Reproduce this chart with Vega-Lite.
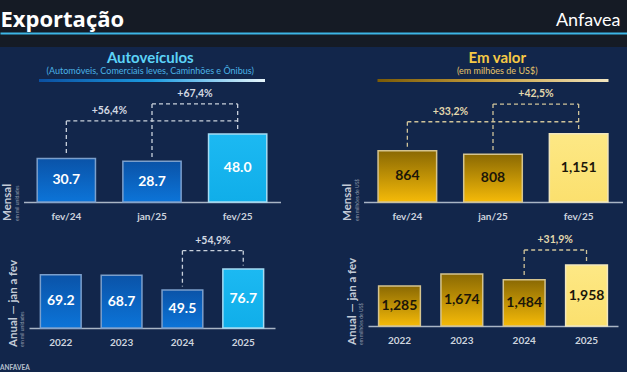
{
  "$schema": "https://vega.github.io/schema/vega-lite/v6.json",
  "background": "#12264b",
  "padding": 0,
  "config": {
    "font": "Lato",
    "view": {"stroke": null},
    "axisX": {"labelFontSize": 10, "labelFontWeight": "bold", "labelColor": "#cdd4de", "labelPadding": 9, "ticks": false, "domainColor": "#a9b5c5", "domainWidth": 1.5, "grid": false, "labelAngle": 0}
  },
  "title": {"text": "ANFAVEA", "orient": "bottom", "anchor": "start", "fontSize": 6.5, "fontWeight": "bold", "color": "#b9c2cf", "offset": 18},
  "spacing": 4,
  "center": true,
  "vconcat": [
    {
      "width": 646, "height": 47,
      "data": {"values": [{"inicio": 0, "fim": 1}]},
      "mark": {"type": "rect", "fill": "#151b25"},
      "encoding": {
        "x": {"field": "inicio", "type": "quantitative", "scale": {"domain": [0, 1]},
          "axis": {"orient": "bottom", "zindex": 2, "offset": -14, "title": "Exportação", "labels": false, "ticks": false, "grid": false, "domain": true, "domainColor": "#3db6e6", "domainWidth": 2, "minExtent": 0, "titleX": 0, "titleY": -7, "titleAlign": "left", "titleBaseline": "alphabetic", "titleFontSize": 22, "titleFontWeight": "bold", "titleColor": "#ffffff", "titleFont": "Open Sans"}},
        "x2": {"field": "fim"},
        "y": {"field": "inicio", "type": "quantitative", "scale": {"domain": [0, 1]},
          "axis": {"orient": "right", "zindex": 2, "title": "Anfavea", "labels": false, "ticks": false, "grid": false, "domain": false, "minExtent": 0, "titleAngle": 0, "titleX": -26, "titleY": 25, "titleAlign": "right", "titleBaseline": "alphabetic", "titleFontSize": 18, "titleFontWeight": "normal", "titleColor": "#ffffff"}},
        "y2": {"field": "fim"}
      }
    },
    {
      "spacing": 61,
      "hconcat": [
        {
          "title": {"text": "Autoveículos", "subtitle": "(Automóveis, Comerciais leves, Caminhões e Ônibus)", "anchor": "middle", "dx": 9, "fontSize": 15, "fontWeight": "bold", "color": "#5cd3f7", "subtitleFontSize": 9, "subtitleColor": "#4bb3e6", "offset": 3, "subtitlePadding": 1},
          "center": true,
          "spacing": 6,
          "vconcat": [
            {
              "width": 226, "height": 3,
              "data": {"values": [{}]},
              "mark": {"type": "rect", "fill": {"gradient": "linear", "x1": 0, "y1": 0, "x2": 1, "y2": 0, "stops": [{"offset": 0, "color": "#0b4fa0"}, {"offset": 0.5, "color": "#1c9be0"}, {"offset": 1, "color": "#e8f6fc"}]}},
              "encoding": {}
            },
            {
              "width": 257, "height": 114,
              "title": {"text": "Mensal", "subtitle": "em mil unidades", "orient": "left", "anchor": "start", "fontSize": 11.5, "fontWeight": "bold", "color": "#c3cbd7", "subtitleFontSize": 5, "subtitleColor": "#8d98aa", "offset": 4, "subtitlePadding": 1},
              "layer": [
                {
                  "data": {"name": "auto_mensal_var"},
                  "transform": [{"lookup": "de", "from": {"data": {"name": "auto_mensal"}, "key": "periodo", "fields": ["valor"]}, "as": ["valor_de"]}],
                  "mark": {"type": "rule", "color": "#c9d1dc", "strokeWidth": 1.3, "strokeDash": [4, 3], "y2Offset": -3.5},
                  "encoding": {
                    "x": {"field": "de", "type": "nominal", "scale": {"domain": ["fev/24", "jan/25", "fev/25"], "paddingInner": 0.32, "paddingOuter": 0.16}, "title": null},
                    "y": {"field": "nivel", "type": "quantitative", "scale": {"domain": [0, 80.45], "nice": false}, "axis": null},
                    "y2": {"field": "valor_de"}
                  }
                },
                {
                  "data": {"name": "auto_mensal_var"},
                  "transform": [
                    {"lookup": "ate", "from": {"data": {"name": "auto_mensal"}, "key": "periodo", "fields": ["valor"]}, "as": ["valor_ate"]},
                    {"joinaggregate": [{"op": "max", "field": "nivel", "as": "nivel_max"}], "groupby": ["ate"]},
                    {"filter": "datum.nivel === datum.nivel_max"}
                  ],
                  "mark": {"type": "rule", "color": "#c9d1dc", "strokeWidth": 1.3, "strokeDash": [4, 3], "y2Offset": -3.5},
                  "encoding": {
                    "x": {"field": "ate", "type": "nominal", "title": null},
                    "y": {"field": "nivel", "type": "quantitative", "axis": null},
                    "y2": {"field": "valor_ate"}
                  }
                },
                {
                  "data": {"name": "auto_mensal_var"},
                  "mark": {"type": "rule", "color": "#c9d1dc", "strokeWidth": 1.3, "strokeDash": [4, 3]},
                  "encoding": {
                    "x": {"field": "de", "type": "nominal", "title": null},
                    "x2": {"field": "ate"},
                    "y": {"field": "nivel", "type": "quantitative", "axis": null}
                  }
                },
                {
                  "data": {"name": "auto_mensal_var"},
                  "mark": {"type": "text", "dx": 43, "dy": -10, "fontSize": 10.5, "fontWeight": "bold", "color": "#d3d9e2"},
                  "encoding": {
                    "x": {"field": "de", "type": "nominal", "title": null},
                    "y": {"field": "nivel", "type": "quantitative", "axis": null},
                    "text": {"field": "variacao"}
                  }
                },
                {
                  "data": {"name": "auto_mensal"},
                  "transform": [{"filter": "datum.periodo !== 'fev/25'"}],
                  "mark": {"type": "bar", "stroke": "#7b9fcc", "strokeWidth": 1.5, "fill": {"gradient": "linear", "x1": 0, "y1": 0, "x2": 0, "y2": 1, "stops": [{"offset": 0, "color": "#0a53a8"}, {"offset": 1, "color": "#0c74d8"}]}},
                  "encoding": {
                    "x": {"field": "periodo", "type": "nominal", "title": null},
                    "y": {"field": "valor", "type": "quantitative", "axis": null}
                  }
                },
                {
                  "data": {"name": "auto_mensal"},
                  "transform": [{"filter": "datum.periodo === 'fev/25'"}],
                  "mark": {"type": "bar", "stroke": "#a5dcf3", "strokeWidth": 1.5, "fill": {"gradient": "linear", "x1": 0, "y1": 0, "x2": 0, "y2": 1, "stops": [{"offset": 0, "color": "#1cb9f2"}, {"offset": 1, "color": "#10aee9"}]}},
                  "encoding": {
                    "x": {"field": "periodo", "type": "nominal", "title": null},
                    "y": {"field": "valor", "type": "quantitative", "axis": null}
                  }
                },
                {
                  "data": {"name": "auto_mensal"},
                  "mark": {"type": "text", "fontSize": 14, "fontWeight": "bold", "color": "#ffffff"},
                  "encoding": {
                    "x": {"field": "periodo", "type": "nominal", "title": null},
                    "y": {"field": "valor", "type": "quantitative", "stack": "zero", "bandPosition": 0.5, "axis": null},
                    "text": {"field": "valor", "format": ".1f"}
                  }
                }
              ]
            },
            {
              "width": 246, "height": 101,
              "title": {"text": "Anual — jan a fev", "subtitle": "em mil unidades", "orient": "left", "anchor": "start", "fontSize": 11.5, "fontWeight": "bold", "color": "#c3cbd7", "subtitleFontSize": 5, "subtitleColor": "#8d98aa", "offset": 4, "subtitlePadding": 1},
              "layer": [
                {
                  "data": {"name": "auto_anual_var"},
                  "transform": [{"lookup": "de", "from": {"data": {"name": "auto_anual"}, "key": "periodo", "fields": ["valor"]}, "as": ["valor_de"]}],
                  "mark": {"type": "rule", "color": "#c9d1dc", "strokeWidth": 1.3, "strokeDash": [4, 3], "y2Offset": -3.5},
                  "encoding": {
                    "x": {"field": "de", "type": "nominal", "scale": {"domain": ["2022", "2023", "2024", "2025"], "paddingInner": 0.33, "paddingOuter": 0.187}, "title": null},
                    "y": {"field": "nivel", "type": "quantitative", "scale": {"domain": [0, 131.5], "nice": false}, "axis": null},
                    "y2": {"field": "valor_de"}
                  }
                },
                {
                  "data": {"name": "auto_anual_var"},
                  "transform": [{"lookup": "ate", "from": {"data": {"name": "auto_anual"}, "key": "periodo", "fields": ["valor"]}, "as": ["valor_ate"]}],
                  "mark": {"type": "rule", "color": "#c9d1dc", "strokeWidth": 1.3, "strokeDash": [4, 3], "y2Offset": -3.5},
                  "encoding": {
                    "x": {"field": "ate", "type": "nominal", "title": null},
                    "y": {"field": "nivel", "type": "quantitative", "axis": null},
                    "y2": {"field": "valor_ate"}
                  }
                },
                {
                  "data": {"name": "auto_anual_var"},
                  "mark": {"type": "rule", "color": "#c9d1dc", "strokeWidth": 1.3, "strokeDash": [4, 3]},
                  "encoding": {
                    "x": {"field": "de", "type": "nominal", "title": null},
                    "x2": {"field": "ate"},
                    "y": {"field": "nivel", "type": "quantitative", "axis": null}
                  }
                },
                {
                  "data": {"name": "auto_anual_var"},
                  "mark": {"type": "text", "dx": 30.5, "dy": -10, "fontSize": 10.5, "fontWeight": "bold", "color": "#d3d9e2"},
                  "encoding": {
                    "x": {"field": "de", "type": "nominal", "title": null},
                    "y": {"field": "nivel", "type": "quantitative", "axis": null},
                    "text": {"field": "variacao"}
                  }
                },
                {
                  "data": {"name": "auto_anual"},
                  "transform": [{"filter": "datum.periodo !== '2025'"}],
                  "mark": {"type": "bar", "stroke": "#7b9fcc", "strokeWidth": 1.5, "fill": {"gradient": "linear", "x1": 0, "y1": 0, "x2": 0, "y2": 1, "stops": [{"offset": 0, "color": "#0a53a8"}, {"offset": 1, "color": "#0c74d8"}]}},
                  "encoding": {
                    "x": {"field": "periodo", "type": "nominal", "title": null},
                    "y": {"field": "valor", "type": "quantitative", "axis": null}
                  }
                },
                {
                  "data": {"name": "auto_anual"},
                  "transform": [{"filter": "datum.periodo === '2025'"}],
                  "mark": {"type": "bar", "stroke": "#a5dcf3", "strokeWidth": 1.5, "fill": {"gradient": "linear", "x1": 0, "y1": 0, "x2": 0, "y2": 1, "stops": [{"offset": 0, "color": "#1cb9f2"}, {"offset": 1, "color": "#10aee9"}]}},
                  "encoding": {
                    "x": {"field": "periodo", "type": "nominal", "title": null},
                    "y": {"field": "valor", "type": "quantitative", "axis": null}
                  }
                },
                {
                  "data": {"name": "auto_anual"},
                  "mark": {"type": "text", "fontSize": 14, "fontWeight": "bold", "color": "#ffffff"},
                  "encoding": {
                    "x": {"field": "periodo", "type": "nominal", "title": null},
                    "y": {"field": "valor", "type": "quantitative", "stack": "zero", "bandPosition": 0.5, "axis": null},
                    "text": {"field": "valor", "format": ".1f"}
                  }
                }
              ]
            }
          ]
        },
        {
          "title": {"text": "Em valor", "subtitle": "(em milhões de US$)", "anchor": "middle", "dx": 15, "fontSize": 15, "fontWeight": "bold", "color": "#f6c945", "subtitleFontSize": 9, "subtitleColor": "#e6c46a", "offset": 3, "subtitlePadding": 1},
          "center": true,
          "spacing": 6,
          "vconcat": [
            {
              "width": 231, "height": 3,
              "data": {"values": [{}]},
              "mark": {"type": "rect", "fill": {"gradient": "linear", "x1": 0, "y1": 0, "x2": 1, "y2": 0, "stops": [{"offset": 0, "color": "#7a5a06"}, {"offset": 0.5, "color": "#c9a040"}, {"offset": 1, "color": "#f2e6c0"}]}},
              "encoding": {}
            },
            {
              "width": 259, "height": 114,
              "title": {"text": "Mensal", "subtitle": "em milhões de US$", "orient": "left", "anchor": "start", "fontSize": 11.5, "fontWeight": "bold", "color": "#c3cbd7", "subtitleFontSize": 5, "subtitleColor": "#8d98aa", "offset": 4, "subtitlePadding": 1},
              "layer": [
                {
                  "data": {"name": "valor_mensal_var"},
                  "transform": [{"lookup": "de", "from": {"data": {"name": "valor_mensal"}, "key": "periodo", "fields": ["valor"]}, "as": ["valor_de"]}],
                  "mark": {"type": "rule", "color": "#cfc39a", "strokeWidth": 1.3, "strokeDash": [4, 3], "y2Offset": -3.5},
                  "encoding": {
                    "x": {"field": "de", "type": "nominal", "scale": {"domain": ["fev/24", "jan/25", "fev/25"], "paddingInner": 0.316, "paddingOuter": 0.17}, "title": null},
                    "y": {"field": "nivel", "type": "quantitative", "scale": {"domain": [0, 1926], "nice": false}, "axis": null},
                    "y2": {"field": "valor_de"}
                  }
                },
                {
                  "data": {"name": "valor_mensal_var"},
                  "transform": [
                    {"lookup": "ate", "from": {"data": {"name": "valor_mensal"}, "key": "periodo", "fields": ["valor"]}, "as": ["valor_ate"]},
                    {"joinaggregate": [{"op": "max", "field": "nivel", "as": "nivel_max"}], "groupby": ["ate"]},
                    {"filter": "datum.nivel === datum.nivel_max"}
                  ],
                  "mark": {"type": "rule", "color": "#cfc39a", "strokeWidth": 1.3, "strokeDash": [4, 3], "y2Offset": -3.5},
                  "encoding": {
                    "x": {"field": "ate", "type": "nominal", "title": null},
                    "y": {"field": "nivel", "type": "quantitative", "axis": null},
                    "y2": {"field": "valor_ate"}
                  }
                },
                {
                  "data": {"name": "valor_mensal_var"},
                  "mark": {"type": "rule", "color": "#cfc39a", "strokeWidth": 1.3, "strokeDash": [4, 3]},
                  "encoding": {
                    "x": {"field": "de", "type": "nominal", "title": null},
                    "x2": {"field": "ate"},
                    "y": {"field": "nivel", "type": "quantitative", "axis": null}
                  }
                },
                {
                  "data": {"name": "valor_mensal_var"},
                  "mark": {"type": "text", "dx": 43, "dy": -10, "fontSize": 10.5, "fontWeight": "bold", "color": "#e3d8ad"},
                  "encoding": {
                    "x": {"field": "de", "type": "nominal", "title": null},
                    "y": {"field": "nivel", "type": "quantitative", "axis": null},
                    "text": {"field": "variacao"}
                  }
                },
                {
                  "data": {"name": "valor_mensal"},
                  "transform": [{"filter": "datum.periodo !== 'fev/25'"}],
                  "mark": {"type": "bar", "stroke": "#d5c48e", "strokeWidth": 1.5, "fill": {"gradient": "linear", "x1": 0, "y1": 0, "x2": 0, "y2": 1, "stops": [{"offset": 0, "color": "#8a6903"}, {"offset": 1, "color": "#f5ba08"}]}},
                  "encoding": {
                    "x": {"field": "periodo", "type": "nominal", "title": null},
                    "y": {"field": "valor", "type": "quantitative", "axis": null}
                  }
                },
                {
                  "data": {"name": "valor_mensal"},
                  "transform": [{"filter": "datum.periodo === 'fev/25'"}],
                  "mark": {"type": "bar", "stroke": "#f2e7bd", "strokeWidth": 1.5, "fill": {"gradient": "linear", "x1": 0, "y1": 0, "x2": 0, "y2": 1, "stops": [{"offset": 0, "color": "#fde885"}, {"offset": 1, "color": "#fbe06e"}]}},
                  "encoding": {
                    "x": {"field": "periodo", "type": "nominal", "title": null},
                    "y": {"field": "valor", "type": "quantitative", "axis": null}
                  }
                },
                {
                  "data": {"name": "valor_mensal"},
                  "mark": {"type": "text", "fontSize": 14, "fontWeight": "bold", "color": "#1b1609"},
                  "encoding": {
                    "x": {"field": "periodo", "type": "nominal", "title": null},
                    "y": {"field": "valor", "type": "quantitative", "stack": "zero", "bandPosition": 0.5, "axis": null},
                    "text": {"field": "valor", "format": ","}
                  }
                }
              ]
            },
            {
              "width": 250, "height": 99,
              "title": {"text": "Anual — jan a fev", "subtitle": "em milhões de US$", "orient": "left", "anchor": "start", "fontSize": 11.5, "fontWeight": "bold", "color": "#c3cbd7", "subtitleFontSize": 5, "subtitleColor": "#8d98aa", "offset": 4, "subtitlePadding": 1},
              "layer": [
                {
                  "data": {"name": "valor_anual_var"},
                  "transform": [{"lookup": "de", "from": {"data": {"name": "valor_anual"}, "key": "periodo", "fields": ["valor"]}, "as": ["valor_de"]}],
                  "mark": {"type": "rule", "color": "#cfc39a", "strokeWidth": 1.3, "strokeDash": [4, 3], "y2Offset": -3.5},
                  "encoding": {
                    "x": {"field": "de", "type": "nominal", "scale": {"domain": ["2022", "2023", "2024", "2025"], "paddingInner": 0.33, "paddingOuter": 0.17}, "title": null},
                    "y": {"field": "nivel", "type": "quantitative", "scale": {"domain": [0, 3183], "nice": false}, "axis": null},
                    "y2": {"field": "valor_de"}
                  }
                },
                {
                  "data": {"name": "valor_anual_var"},
                  "transform": [{"lookup": "ate", "from": {"data": {"name": "valor_anual"}, "key": "periodo", "fields": ["valor"]}, "as": ["valor_ate"]}],
                  "mark": {"type": "rule", "color": "#cfc39a", "strokeWidth": 1.3, "strokeDash": [4, 3], "y2Offset": -3.5},
                  "encoding": {
                    "x": {"field": "ate", "type": "nominal", "title": null},
                    "y": {"field": "nivel", "type": "quantitative", "axis": null},
                    "y2": {"field": "valor_ate"}
                  }
                },
                {
                  "data": {"name": "valor_anual_var"},
                  "mark": {"type": "rule", "color": "#cfc39a", "strokeWidth": 1.3, "strokeDash": [4, 3]},
                  "encoding": {
                    "x": {"field": "de", "type": "nominal", "title": null},
                    "x2": {"field": "ate"},
                    "y": {"field": "nivel", "type": "quantitative", "axis": null}
                  }
                },
                {
                  "data": {"name": "valor_anual_var"},
                  "mark": {"type": "text", "dx": 31, "dy": -10, "fontSize": 10.5, "fontWeight": "bold", "color": "#e3d8ad"},
                  "encoding": {
                    "x": {"field": "de", "type": "nominal", "title": null},
                    "y": {"field": "nivel", "type": "quantitative", "axis": null},
                    "text": {"field": "variacao"}
                  }
                },
                {
                  "data": {"name": "valor_anual"},
                  "transform": [{"filter": "datum.periodo !== '2025'"}],
                  "mark": {"type": "bar", "stroke": "#d5c48e", "strokeWidth": 1.5, "fill": {"gradient": "linear", "x1": 0, "y1": 0, "x2": 0, "y2": 1, "stops": [{"offset": 0, "color": "#8a6903"}, {"offset": 1, "color": "#f5ba08"}]}},
                  "encoding": {
                    "x": {"field": "periodo", "type": "nominal", "title": null},
                    "y": {"field": "valor", "type": "quantitative", "axis": null}
                  }
                },
                {
                  "data": {"name": "valor_anual"},
                  "transform": [{"filter": "datum.periodo === '2025'"}],
                  "mark": {"type": "bar", "stroke": "#f2e7bd", "strokeWidth": 1.5, "fill": {"gradient": "linear", "x1": 0, "y1": 0, "x2": 0, "y2": 1, "stops": [{"offset": 0, "color": "#fde885"}, {"offset": 1, "color": "#fbe06e"}]}},
                  "encoding": {
                    "x": {"field": "periodo", "type": "nominal", "title": null},
                    "y": {"field": "valor", "type": "quantitative", "axis": null}
                  }
                },
                {
                  "data": {"name": "valor_anual"},
                  "mark": {"type": "text", "fontSize": 14, "fontWeight": "bold", "color": "#1b1609"},
                  "encoding": {
                    "x": {"field": "periodo", "type": "nominal", "title": null},
                    "y": {"field": "valor", "type": "quantitative", "stack": "zero", "bandPosition": 0.5, "axis": null},
                    "text": {"field": "valor", "format": ","}
                  }
                }
              ]
            }
          ]
        }
      ]
    }
  ],
  "datasets": {
    "auto_mensal": [{"periodo": "fev/24", "valor": 30.7}, {"periodo": "jan/25", "valor": 28.7}, {"periodo": "fev/25", "valor": 48.0}],
    "auto_mensal_var": [{"de": "fev/24", "ate": "fev/25", "variacao": "+56,4%", "nivel": 57.2}, {"de": "jan/25", "ate": "fev/25", "variacao": "+67,4%", "nivel": 69.2}],
    "auto_anual": [{"periodo": "2022", "valor": 69.2}, {"periodo": "2023", "valor": 68.7}, {"periodo": "2024", "valor": 49.5}, {"periodo": "2025", "valor": 76.7}],
    "auto_anual_var": [{"de": "2024", "ate": "2025", "variacao": "+54,9%", "nivel": 100.7}],
    "valor_mensal": [{"periodo": "fev/24", "valor": 864}, {"periodo": "jan/25", "valor": 808}, {"periodo": "fev/25", "valor": 1151}],
    "valor_mensal_var": [{"de": "fev/24", "ate": "fev/25", "variacao": "+33,2%", "nivel": 1356}, {"de": "jan/25", "ate": "fev/25", "variacao": "+42,5%", "nivel": 1655}],
    "valor_anual": [{"periodo": "2022", "valor": 1285}, {"periodo": "2023", "valor": 1674}, {"periodo": "2024", "valor": 1484}, {"periodo": "2025", "valor": 1958}],
    "valor_anual_var": [{"de": "2024", "ate": "2025", "variacao": "+31,9%", "nivel": 2444}]
  }
}
